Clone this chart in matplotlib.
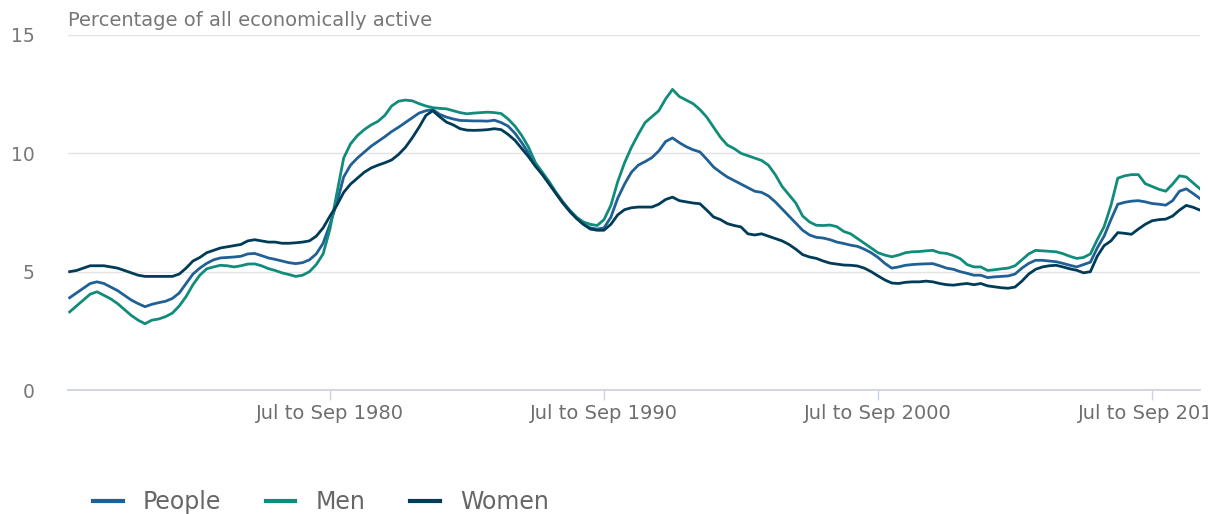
import numpy as np
import matplotlib
matplotlib.use("Agg")
import matplotlib.pyplot as plt

# Quarterly readings (rolling 3-month periods), starting Jan-Mar 1971, one value per quarter
start_year = 1971.0

people = [
    3.9, 4.1, 4.3, 4.5,        # 1971
    4.57, 4.5, 4.35, 4.2,      # 1972
    4.0, 3.8, 3.65, 3.52,      # 1973
    3.62, 3.69, 3.75, 3.87,    # 1974
    4.1, 4.5, 4.9, 5.15,       # 1975
    5.35, 5.5, 5.58, 5.6,      # 1976
    5.62, 5.65, 5.75, 5.77,    # 1977
    5.68, 5.58, 5.52, 5.45,    # 1978
    5.38, 5.34, 5.38, 5.5,     # 1979
    5.75, 6.2, 7.0, 7.9,       # 1980
    9.0, 9.5, 9.8, 10.05,      # 1981
    10.3, 10.5, 10.7, 10.92,   # 1982
    11.1, 11.3, 11.5, 11.7,    # 1983
    11.8, 11.85, 11.65, 11.53, # 1984
    11.45, 11.39, 11.38, 11.37,# 1985
    11.37, 11.36, 11.4, 11.3,  # 1986
    11.15, 10.85, 10.45, 10.0, # 1987
    9.5, 9.12, 8.72, 8.3,      # 1988
    7.9, 7.55, 7.25, 7.0,      # 1989
    6.85, 6.8, 6.85, 7.3,      # 1990
    8.1, 8.7, 9.2, 9.5,        # 1991
    9.65, 9.82, 10.1, 10.5,    # 1992
    10.65, 10.45, 10.28, 10.15,# 1993
    10.06, 9.75, 9.42, 9.2,    # 1994
    9.0, 8.85, 8.7, 8.55,      # 1995
    8.4, 8.35, 8.2, 7.95,      # 1996
    7.65, 7.35, 7.05, 6.75,    # 1997
    6.55, 6.45, 6.42, 6.35,    # 1998
    6.25, 6.19, 6.12, 6.07,    # 1999
    5.95, 5.8, 5.6, 5.35,      # 2000
    5.15, 5.2, 5.27, 5.3,      # 2001
    5.32, 5.33, 5.34, 5.25,    # 2002
    5.15, 5.1, 5.0, 4.93,      # 2003
    4.85, 4.85, 4.75, 4.78,    # 2004
    4.8, 4.82, 4.9, 5.15,      # 2005
    5.35, 5.48, 5.48, 5.45,    # 2006
    5.42, 5.35, 5.27, 5.2,     # 2007
    5.3, 5.4, 6.0, 6.5,        # 2008
    7.2, 7.85, 7.93, 7.98,     # 2009
    8.0, 7.95, 7.88, 7.85,     # 2010
    7.81, 8.0, 8.4, 8.5,       # 2011
    8.3, 8.09,                 # 2012
]

men = [
    3.3, 3.55, 3.8, 4.05,
    4.15, 4.0, 3.85, 3.65,
    3.4, 3.15, 2.95, 2.8,
    2.95, 3.0, 3.1, 3.25,
    3.55, 3.95, 4.45, 4.85,
    5.12, 5.2, 5.27, 5.25,
    5.2, 5.25, 5.32, 5.33,
    5.25, 5.13, 5.05, 4.95,
    4.88, 4.8, 4.85, 5.0,
    5.3, 5.75, 6.8, 8.3,
    9.8, 10.4, 10.75, 11.0,
    11.2, 11.35, 11.6, 12.0,
    12.2, 12.25, 12.22, 12.1,
    12.0, 11.93, 11.9, 11.88,
    11.8, 11.72, 11.67, 11.7,
    11.72, 11.74, 11.72, 11.68,
    11.45, 11.15, 10.75, 10.25,
    9.6, 9.2, 8.8, 8.35,
    7.95, 7.6, 7.3, 7.1,
    7.0, 6.95, 7.2, 7.8,
    8.8, 9.6, 10.25, 10.8,
    11.3, 11.55, 11.8, 12.3,
    12.7, 12.4, 12.25, 12.1,
    11.85, 11.53, 11.1, 10.68,
    10.35, 10.2, 10.0, 9.9,
    9.8, 9.7, 9.5, 9.1,
    8.6, 8.25, 7.9, 7.35,
    7.1, 6.96, 6.95, 6.97,
    6.9, 6.7, 6.6, 6.4,
    6.2, 6.0, 5.8, 5.7,
    5.63, 5.7, 5.8, 5.84,
    5.85, 5.88, 5.9, 5.8,
    5.77, 5.68, 5.55, 5.3,
    5.2, 5.2, 5.05, 5.08,
    5.12, 5.15, 5.25, 5.5,
    5.75, 5.9, 5.88, 5.86,
    5.84, 5.76, 5.65, 5.56,
    5.6, 5.75, 6.35, 6.9,
    7.8, 8.95, 9.05, 9.1,
    9.1, 8.72, 8.6, 8.48,
    8.4, 8.7, 9.05, 9.0,
    8.75, 8.5,
]

women = [
    5.0, 5.05, 5.15, 5.25,
    5.25, 5.25, 5.2, 5.15,
    5.05, 4.95, 4.85, 4.8,
    4.8, 4.8, 4.8, 4.8,
    4.9, 5.15, 5.45, 5.6,
    5.8, 5.9, 6.0, 6.05,
    6.1, 6.15, 6.3, 6.35,
    6.3, 6.25, 6.25, 6.2,
    6.2, 6.22, 6.25, 6.3,
    6.5, 6.85, 7.35, 7.8,
    8.35, 8.7, 8.95, 9.2,
    9.38, 9.5, 9.6, 9.72,
    9.95, 10.25, 10.65, 11.1,
    11.6, 11.8, 11.55, 11.32,
    11.2, 11.04, 10.98, 10.97,
    10.98, 11.0, 11.04, 11.0,
    10.8, 10.55, 10.2, 9.85,
    9.45, 9.1, 8.7, 8.3,
    7.9, 7.55, 7.25, 7.0,
    6.8, 6.75, 6.75, 7.0,
    7.4, 7.62, 7.7, 7.73,
    7.73, 7.73, 7.85, 8.05,
    8.15, 8.0, 7.95, 7.9,
    7.87, 7.6, 7.31, 7.2,
    7.03, 6.95, 6.89, 6.6,
    6.55, 6.6, 6.5, 6.4,
    6.3, 6.15, 5.95, 5.72,
    5.62, 5.56, 5.45, 5.36,
    5.32, 5.28, 5.27, 5.24,
    5.15, 5.0, 4.82, 4.65,
    4.52, 4.5, 4.55, 4.57,
    4.57, 4.6, 4.57, 4.5,
    4.45, 4.43, 4.47, 4.5,
    4.45, 4.5, 4.4, 4.36,
    4.32, 4.3, 4.35, 4.6,
    4.9, 5.1, 5.2, 5.25,
    5.27, 5.2, 5.12, 5.06,
    4.95, 5.0, 5.65, 6.1,
    6.3, 6.65, 6.62, 6.58,
    6.8, 7.0, 7.15, 7.2,
    7.22, 7.35, 7.6, 7.8,
    7.72, 7.6,
]

tick_years = [1980, 1990, 2000, 2010]
tick_labels = ["Jul to Sep 1980", "Jul to Sep 1990", "Jul to Sep 2000", "Jul to Sep 2010"]
series_names = ["People", "Men", "Women"]
colors = ["#206095", "#118c7b", "#003c57"]

plt.rcParams['font.family'] = ['DejaVu Sans']

x = start_year + np.arange(len(people)) * 0.25

fig = plt.figure(figsize=(12.08, 5.14), dpi=100)
ax = fig.add_axes([68 / 1208, 1 - 390 / 514, (1200 - 68) / 1208, (390 - 35) / 514])

handles = []
for name, data, c in zip(series_names, [people, men, women], colors):
    h, = ax.plot(x, data, color=c, lw=2.0, label=name, solid_joinstyle='round')
    handles.append(h)

ax.set_ylim(0, 15)
ax.set_xlim(1970.94, 2012.25)
ax.set_yticks([0, 5, 10, 15])
ax.set_yticklabels(["0", "5", "10", "15"])
ax.set_xticks([y + 0.5 for y in tick_years])
ax.set_xticklabels(tick_labels)

for s in ["top", "right", "left"]:
    ax.spines[s].set_visible(False)
ax.spines["bottom"].set_color("#ccd4e2")
ax.spines["bottom"].set_linewidth(1.3)

ax.grid(axis='y', color='#e3e3e3', lw=1.0)
ax.set_axisbelow(True)
ax.tick_params(axis='y', length=0, pad=24, labelsize=13.5, labelcolor='#777777')
ax.tick_params(axis='x', length=7, width=1.0, color='#ccd4e2', pad=3,
               labelsize=14, labelcolor='#6e6e6e')
for lbl in ax.get_yticklabels():
    lbl.set_horizontalalignment('right')

fig.text(68 / 1208, 1 - 26 / 514, "Percentage of all economically active",
         fontsize=14, color='#777777', va='baseline', ha='left')

fig.legend(handles=handles, labels=series_names, loc='center left',
           bbox_to_anchor=(93 / 1208, 1 - 502 / 514), ncol=3, frameon=False,
           fontsize=17, labelcolor='#666666', handlelength=1.25,
           handletextpad=0.85, columnspacing=1.9, borderpad=0, borderaxespad=0)
for lh in fig.legends[0].get_lines():
    lh.set_linewidth(3)

fig.savefig("out.png", dpi=100)
